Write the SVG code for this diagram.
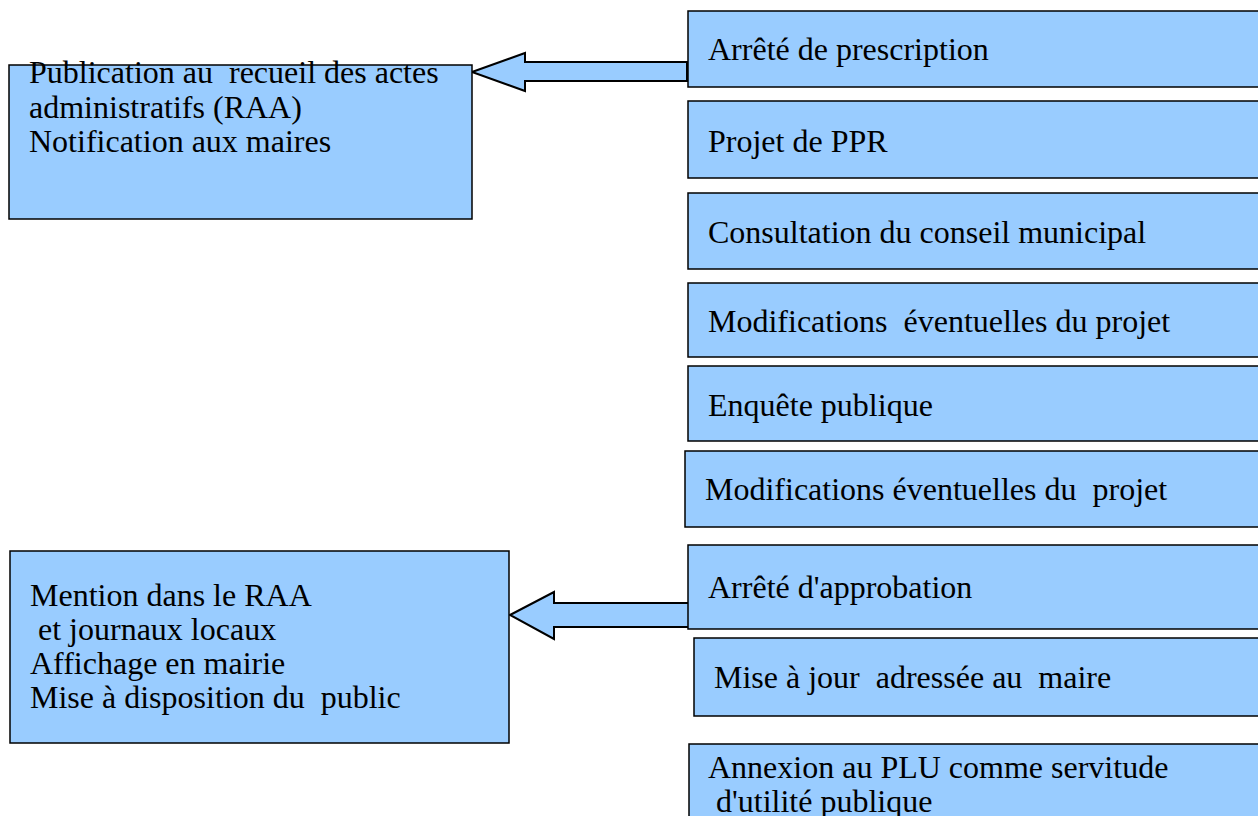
<svg xmlns="http://www.w3.org/2000/svg" width="1258" height="816" viewBox="0 0 1258 816">
<style>
.box{fill:#99ccff;stroke:#000;stroke-width:1.5}
.arrow{fill:#99ccff;stroke:#000;stroke-width:2;stroke-linejoin:miter}
text{font-family:'Liberation Serif',Tinos,'Times New Roman',Times,serif;font-size:32px;fill:#000}
</style>
<rect width="1258" height="816" fill="#fff"/>
<g id="connectors">
<polygon class="arrow" points="472,72 525,53 525,62 687,62 687,81 525,81 525,91"/>
<polygon class="arrow" points="510,615 554,592 554,603 689,603 689,627 554,627 554,639"/>
</g>
<g id="n1"><rect class="box" x="688" y="11" width="580" height="76"/><text x="708" y="60">Arrêté de prescription</text></g>
<g id="n2"><rect class="box" x="688" y="101" width="580" height="77"/><text x="708" y="152">Projet de PPR</text></g>
<g id="n3"><rect class="box" x="688" y="193" width="580" height="76"/><text x="708" y="243">Consultation du conseil municipal</text></g>
<g id="n4"><rect class="box" x="688" y="283" width="580" height="74"/><text x="708" y="332" xml:space="preserve">Modifications  éventuelles du projet</text></g>
<g id="n5"><rect class="box" x="688" y="366" width="580" height="75"/><text x="708" y="416">Enquête publique</text></g>
<g id="n6"><rect class="box" x="685" y="451" width="580" height="76"/><text x="705" y="500" xml:space="preserve">Modifications éventuelles du  projet</text></g>
<g id="n7"><rect class="box" x="688" y="545" width="580" height="84"/><text x="708" y="598">Arrêté d'approbation</text></g>
<g id="n8"><rect class="box" x="694" y="638" width="580" height="78"/><text x="714" y="688" xml:space="preserve">Mise à jour  adressée au  maire</text></g>
<g id="n9"><rect class="box" x="689" y="744" width="580" height="90"/><text x="708" y="778">Annexion au PLU comme servitude</text><text x="708" y="812" xml:space="preserve"> d'utilité publique</text></g>
<g id="left1"><rect class="box" x="9" y="65" width="463" height="154"/><text x="29" y="83" xml:space="preserve">Publication au  recueil des actes</text><text x="29" y="118">administratifs (RAA)</text><text x="29" y="152">Notification aux maires</text></g>
<g id="left2"><rect class="box" x="10" y="551" width="499" height="192"/><text x="30" y="606">Mention dans le RAA</text><text x="30" y="640" xml:space="preserve"> et journaux locaux</text><text x="30" y="674">Affichage en mairie</text><text x="30" y="708" xml:space="preserve">Mise à disposition du  public</text></g>
</svg>
